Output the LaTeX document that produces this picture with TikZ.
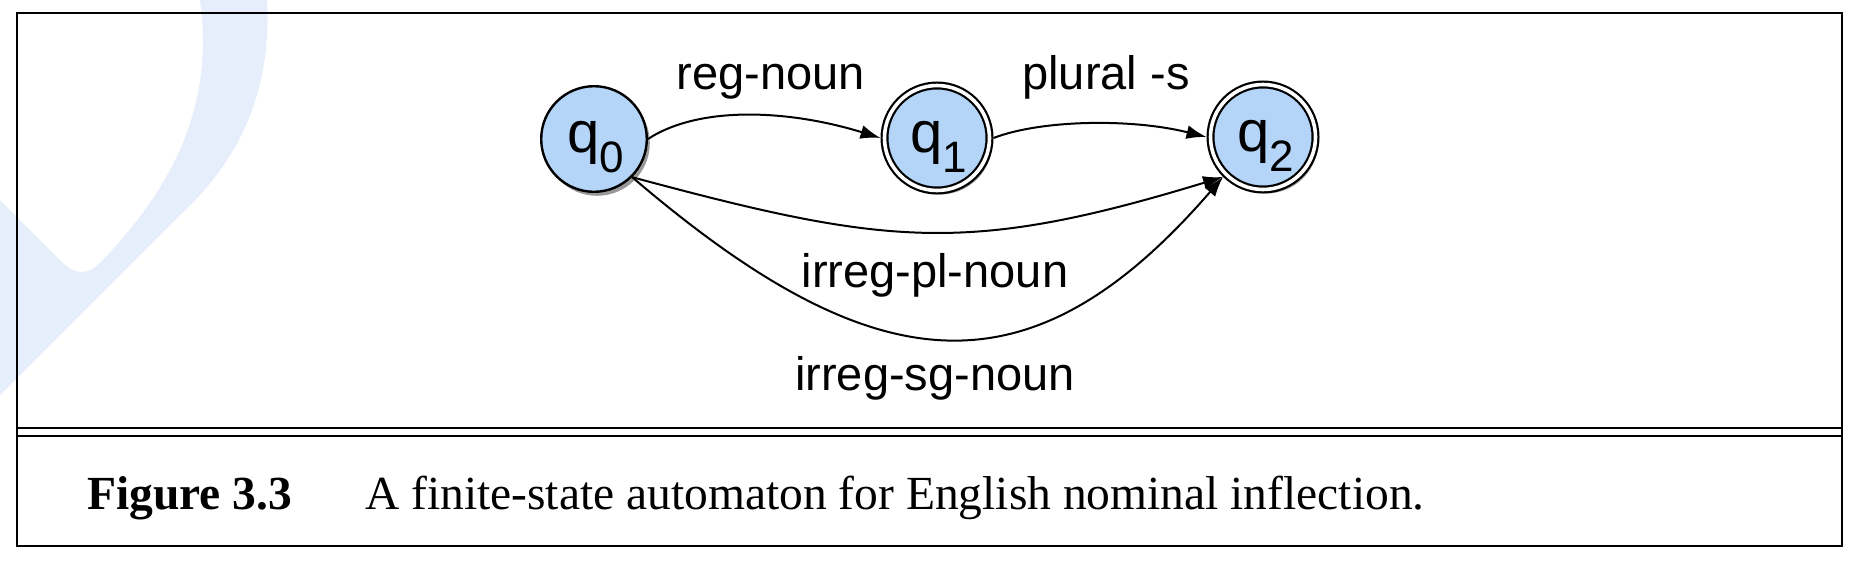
\documentclass[tikz,border=0pt]{standalone}
\usepackage{fontspec}
\setmainfont{Liberation Serif}
\newfontfamily\lsans{Liberation Sans}
\usetikzlibrary{arrows.meta,shadows}
\definecolor{stateblue}{RGB}{180,213,248}
\definecolor{wmblue}{RGB}{230,238,251}
\begin{document}
\begin{tikzpicture}[x=1pt,y=-1pt,
  fsastate/.style={circle, draw=black, line width=2.4pt, fill=stateblue,
    inner sep=0pt, outer sep=1.2pt, minimum size=105.6pt,
    drop shadow={shadow xshift=3pt,shadow yshift=-4pt,opacity=0.4,fill=black}},
  fsaaccept/.style={fsastate, line width=2.2pt, double=white, double distance=3.6pt,
    outer sep=4pt, minimum size=105pt},
  qtxt/.style={font=\lsans\fontsize{58}{66}\selectfont, inner sep=0pt, anchor=base},
  lbl/.style={font=\lsans\fontsize{47}{56}\selectfont, inner sep=0pt, anchor=base},
  captxt/.style={font=\fontsize{47.5}{56}\selectfont, inner sep=0pt, anchor=base west},
  fsaedge/.style={line width=2pt, -{Latex[length=20pt,width=14pt]}},
  framerule/.style={line width=2.8pt}
]
\useasboundingbox (0,0) rectangle (1860,560);
% watermark
\fill[wmblue] (267,0) .. controls (272,90) and (240,160) .. (180,215) -- (0,395) -- (0,200)
  -- (63,263) .. controls (75,275) and (88,275) .. (100,263)
  .. controls (170,190) and (215,110) .. (200,0) -- cycle;
% frame
\draw[framerule] (17,13) rectangle (1842,546);
\draw[framerule] (17,428) -- (1842,428);
\draw[framerule] (17,436) -- (1842,436);
% states
\node[fsastate] (q0) at (594,139) {};
\node[fsaaccept] (q1) at (937,138) {};
\node[fsaaccept] (q2) at (1263,137) {};
\node[qtxt] (t0) at (596,152) {q\raisebox{-20pt}{\fontsize{44}{48}\selectfont 0}};
\node[qtxt] (t1) at (939,152) {q\raisebox{-20pt}{\fontsize{44}{48}\selectfont 1}};
\node[qtxt] (t2) at (1266,151) {q\raisebox{-20pt}{\fontsize{44}{48}\selectfont 2}};
% transitions
\draw[fsaedge] (q0.east) .. controls (700,105) and (790,110) .. (q1.west);
\draw[fsaedge] (q1.east) .. controls (1040,120) and (1130,118) .. (q2.west);
\draw[fsaedge] (q0.south east) .. controls (888,246) and (967,255) .. (q2.south west);
\draw[fsaedge] (q0.south east) .. controls (875,385) and (1030,400) .. (q2.south west);
% labels
\node[lbl] (l1) at (771,89) {reg-noun};
\node[lbl] (l2) at (1106,89) {plural -s};
\node[lbl] (l3) at (935,287) {irreg-pl-noun};
\node[lbl] (l4) at (935,390) {irreg-sg-noun};
% caption
\node[captxt] (c1) at (87,509) {\bfseries Figure 3.3};
\node[captxt] (c2) at (365,509) {A finite-state automaton for English nominal inflection.};
\end{tikzpicture}
\end{document}
